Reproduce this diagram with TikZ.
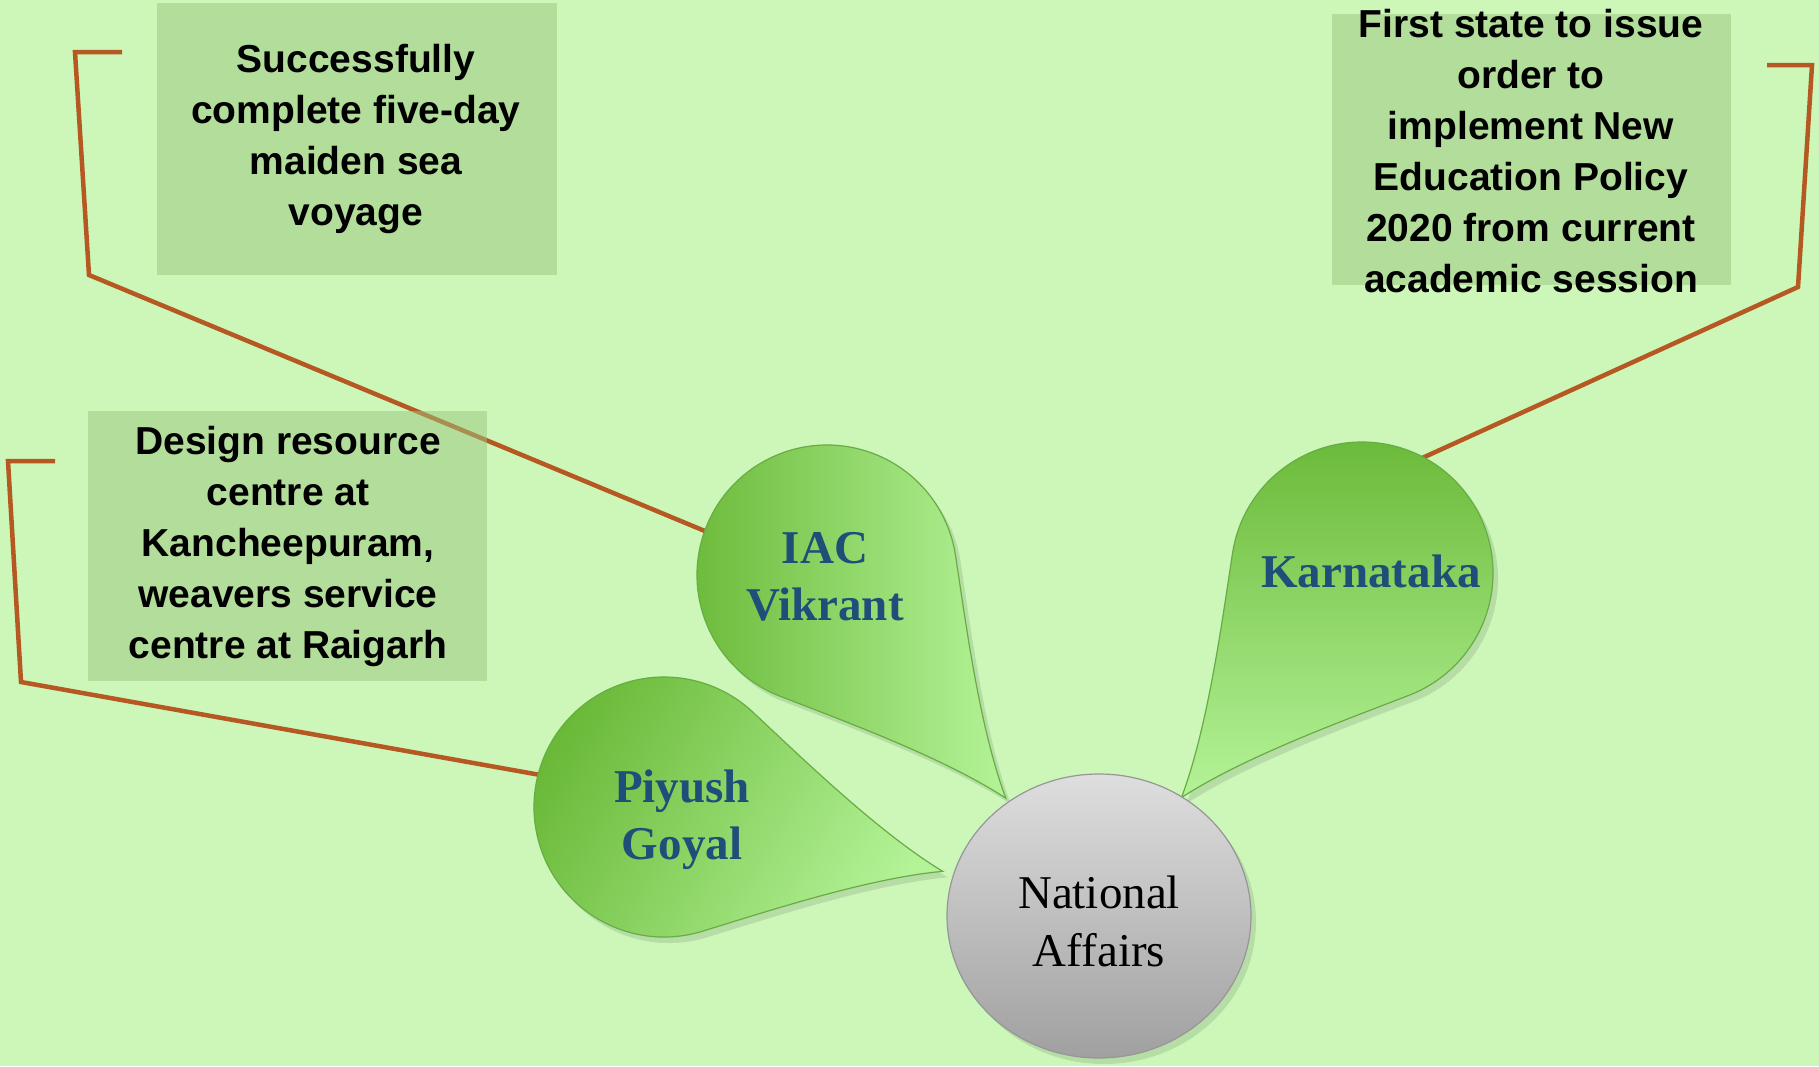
\documentclass[tikz,border=0pt]{standalone}
\usepackage{fontspec}
\setmainfont{Liberation Serif}
\newfontfamily\boxfont{Liberation Sans}
\definecolor{bg}{RGB}{204,247,185}
\definecolor{boxc}{RGB}{156,197,127}
\definecolor{leader}{RGB}{181,88,34}
\definecolor{gdark}{RGB}{106,185,56}
\definecolor{glight}{RGB}{180,243,152}
\definecolor{gborder}{RGB}{104,172,68}
\definecolor{bluetext}{RGB}{31,78,121}
\definecolor{gtop}{RGB}{222,222,222}
\definecolor{gbot}{RGB}{160,160,160}
\definecolor{gline}{RGB}{150,150,150}
\tikzset{
 droppath/.style={insert path={(2.2,0) .. controls (1.65,0.18) and (0.933,0.616) .. (0.5,0.866) arc[start angle=60,end angle=300,radius=1] .. controls (0.933,-0.616) and (1.65,-0.18) .. (2.2,0) -- cycle}},
 boxfill/.style={fill=boxc, fill opacity=0.5, inner sep=0pt},
 boxtext/.style={font=\boxfont\bfseries\fontsize{39}{51}\selectfont, align=center, text=black, inner sep=0pt},
 bubtext/.style={font=\bfseries\fontsize{47}{57}\selectfont, align=center, text=bluetext, inner sep=0pt},
 nattext/.style={font=\fontsize{47}{58}\selectfont, align=center, text=black, inner sep=0pt},
 leaderline/.style={draw=leader, line width=4.5pt, line join=miter},
 shadowfill/.style={fill=black, fill opacity=0.10},
 bubble/.style={draw=gborder, line width=1.2pt},
}
\begin{document}
\begin{tikzpicture}[x=1pt,y=-1pt]
\useasboundingbox (0,0) rectangle (1819,1066);
\fill[bg] (0,0) rectangle (1819,1066);

% leader coordinates
\coordinate (l1s) at (122,52);
\coordinate (l1a) at (75,52);
\coordinate (l1b) at (89,275);
\coordinate (l1e) at (712,534);
\coordinate (l2s) at (55,461);
\coordinate (l2a) at (8,461);
\coordinate (l2b) at (21,682);
\coordinate (l2e) at (546,776);
\coordinate (l3s) at (1767,65);
\coordinate (l3a) at (1812,65);
\coordinate (l3b) at (1798,287);
\coordinate (l3e) at (1420,459);

\path[leaderline] (l1s) -- (l1a) -- (l1b) -- (l1e);
\path[leaderline] (l2s) -- (l2a) -- (l2b) -- (l2e);
\path[leaderline] (l3s) -- (l3a) -- (l3b) -- (l3e);

% boxes
\node[boxfill, minimum width=400pt, minimum height=272pt] (b1) at (357,139) {};
\node[boxfill, minimum width=399pt, minimum height=270pt] (b2) at (287.5,546) {};
\node[boxfill, minimum width=399pt, minimum height=271pt] (b3) at (1531.5,149.5) {};

\node[boxtext] (t1) at (356,139) {Successfully\\complete five-day\\maiden sea\\voyage};
\node[boxtext] (t2) at (288,546) {Design resource\\centre at\\Kancheepuram,\\weavers service\\centre at Raigarh};
\node[boxtext] (t3) at (1531,151) {First state to issue\\order to\\implement New\\Education Policy\\2020 from current\\academic session};

% shadows
\begin{scope}[shift={(832,581)}, rotate=-51.3, scale=130]
 \path[shadowfill, droppath];
\end{scope}
\begin{scope}[shift={(669,813)}, rotate=-13, scale=130]
 \path[shadowfill, droppath];
\end{scope}
\begin{scope}[shift={(1367,579)}, rotate=-128.8, scale=131]
 \path[shadowfill, droppath];
\end{scope}
\path[shadowfill] (1104,922) ellipse [x radius=152, y radius=142];

% bubbles
\begin{scope}[shift={(827,575)}, rotate=-51.3, scale=130]
 \path[bubble, left color=gdark, right color=glight, droppath];
\end{scope}
\begin{scope}[shift={(664,807)}, rotate=-13, scale=130]
 \path[bubble, left color=gdark, right color=glight, shading angle=60, droppath];
\end{scope}
\begin{scope}[shift={(1362,573)}, rotate=-128.8, scale=131]
 \path[bubble, top color=gdark, bottom color=glight, droppath];
\end{scope}
\path[draw=gline, line width=1.2pt, top color=gtop, bottom color=gbot] (1099,916) ellipse [x radius=152, y radius=142];

\node[bubtext] (iac) at (825,577) {IAC\\Vikrant};
\node[bubtext] (piyush) at (682,820) {Piyush\\Goyal};
\node[bubtext] (karnataka) at (1371,571) {Karnataka};
\node[nattext] (nat) at (1099,921) {National\\Affairs};
\end{tikzpicture}
\end{document}
